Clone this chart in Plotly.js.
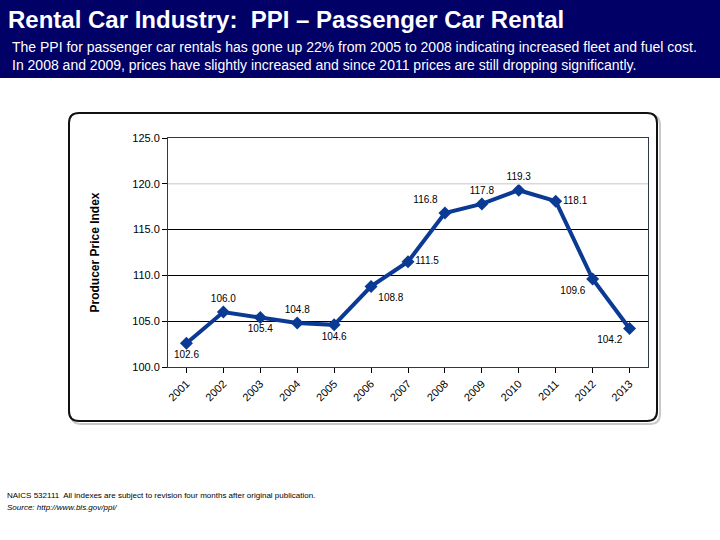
<!DOCTYPE html>
<html>
<head>
<meta charset="utf-8">
<script src="https://cdn.plot.ly/plotly-3.0.1.min.js"></script>
<style>html,body{margin:0;padding:0;background:#fff;}#chart{width:720px;height:540px;}</style>
</head>
<body>
<div id="chart"></div>
<script>
const years = ["2001","2002","2003","2004","2005","2006","2007","2008","2009","2010","2011","2012","2013"];
const ppi = [102.6, 106.0, 105.4, 104.8, 104.6, 108.8, 111.5, 116.8, 117.8, 119.3, 118.1, 109.6, 104.2];
const labelPos = ["bottom center","top center","bottom center","top center","bottom center","bottom right","middle right","top left","top center","top center","middle right","bottom left","bottom left"];
const yTicks = [100, 105, 110, 115, 120, 125];

const L = 168, R = 648, T = 138, B = 367, W = 720, H = 540;
const px = x => (x - L) / (R - L);
const py = y => (B - y) / (B - T);

function roundRect(x0, y0, x1, y1, r) {
  const rx = r / (R - L), ry = r / (B - T);
  const X0 = px(x0), X1 = px(x1), Y0 = py(y0), Y1 = py(y1);
  return `M ${X0+rx},${Y0} L ${X1-rx},${Y0} Q ${X1},${Y0} ${X1},${Y0-ry} L ${X1},${Y1+ry} Q ${X1},${Y1} ${X1-rx},${Y1} L ${X0+rx},${Y1} Q ${X0},${Y1} ${X0},${Y1+ry} L ${X0},${Y0-ry} Q ${X0},${Y0} ${X0+rx},${Y0} Z`;
}

const trace = {
  x: years, y: ppi, type: 'scatter', mode: 'lines+markers+text',
  line: {color: '#0b3a94', width: 4},
  marker: {symbol: 'diamond', size: 10, color: '#0b3a94'},
  text: ppi.map(v => v.toFixed(1)),
  textposition: labelPos,
  textfont: {family: 'Arial, Liberation Sans, sans-serif', size: 10, color: '#000'},
  cliponaxis: false,
  hoverinfo: 'skip'
};

const layout = {
  width: W, height: H,
  margin: {l: L, r: W - R, t: T, b: H - B},
  paper_bgcolor: '#fff', plot_bgcolor: '#fff',
  showlegend: false,
  font: {family: 'Arial, Liberation Sans, sans-serif', color: '#000'},
  xaxis: {
    type: 'category', range: [-0.5, years.length - 0.5],
    tickvals: years, ticktext: years,
    tickangle: -45, tickfont: {size: 11},
    showline: true, linecolor: '#2a3a4a', linewidth: 1, mirror: true,
    ticks: 'outside', ticklen: 5, tickcolor: '#000',
    showgrid: false, fixedrange: true
  },
  yaxis: {
    range: [100, 125], tickvals: yTicks, ticktext: yTicks.map(v => v.toFixed(1)),
    tickfont: {size: 11}, ticks: 'outside', ticklen: 5, tickcolor: '#000',
    showline: true, linecolor: '#2a3a4a', linewidth: 1, mirror: true,
    showgrid: true, gridcolor: '#000', gridwidth: 1, zeroline: false,
    title: {text: '<b>Producer Price Index</b>', font: {size: 12}, standoff: 30}
  },
  shapes: [
    {type: 'rect', xref: 'paper', yref: 'paper', x0: px(0), x1: px(720), y0: py(0), y1: py(78), fillcolor: '#000066', line: {width: 0}, layer: 'below'},
    {type: 'path', xref: 'paper', yref: 'paper', path: roundRect(71, 115, 660, 424, 10), fillcolor: 'rgba(0,0,0,0)', line: {color: '#c8c8c8', width: 2}, layer: 'below'},
    {type: 'path', xref: 'paper', yref: 'paper', path: roundRect(69, 113, 657, 421, 10), fillcolor: '#ffffff', line: {color: '#111111', width: 2}, layer: 'below'},
    {type: 'line', xref: 'paper', yref: 'y', x0: 0, x1: 1, y0: 120, y1: 120, line: {color: '#d9d9d9', width: 1.5}, layer: 'above'}
  ],
  annotations: [
    {xref: 'paper', yref: 'paper', x: px(6), y: py(19), xanchor: 'left', yanchor: 'middle', showarrow: false,
     text: '<b>Rental Car Industry:  PPI – Passenger Car Rental</b>', font: {size: 24, color: '#ffffff'}},
    {xref: 'paper', yref: 'paper', x: px(10), y: py(47), xanchor: 'left', yanchor: 'middle', showarrow: false,
     text: 'The PPI for passenger car rentals has gone up 22% from 2005 to 2008 indicating increased fleet and fuel cost.', font: {size: 14, color: '#ffffff'}},
    {xref: 'paper', yref: 'paper', x: px(10), y: py(65), xanchor: 'left', yanchor: 'middle', showarrow: false,
     text: 'In 2008 and 2009, prices have slightly increased and since 2011 prices are still dropping significantly.', font: {size: 14, color: '#ffffff'}},
    {xref: 'paper', yref: 'paper', x: px(5), y: py(495), xanchor: 'left', yanchor: 'middle', showarrow: false,
     text: 'NAICS 532111  All indexes are subject to revision four months after original publication.', font: {size: 8, color: '#000'}},
    {xref: 'paper', yref: 'paper', x: px(5), y: py(507), xanchor: 'left', yanchor: 'middle', showarrow: false,
     text: '<i>Source: http://www.bls.gov/ppi/</i>', font: {size: 8, color: '#000'}}
  ]
};

Plotly.newPlot('chart', [trace], layout, {staticPlot: true, displayModeBar: false});
</script>
</body>
</html>
